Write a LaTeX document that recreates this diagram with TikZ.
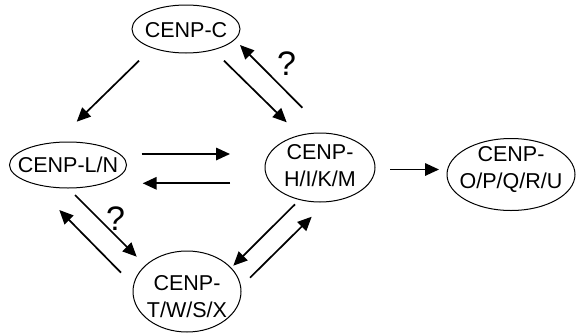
\documentclass[tikz,border=0pt]{standalone}
\usepackage{fontspec}
\setmainfont{Liberation Sans}
\usetikzlibrary{shapes.geometric,arrows.meta}
\newcommand\cenplbl[2]{\raisebox{#1}[\height][\depth]{\begin{tabular}{@{}c@{}}#2\end{tabular}}}
\begin{document}
\begin{tikzpicture}[x=1pt,y=-1pt,
  cenp/.style={draw,ellipse,line width=1pt,inner sep=-40pt,
    font=\fontsize{21.5}{26.5}\selectfont},
  conn/.style={line width=1.7pt,-{Triangle[length=14pt,width=12.5pt]}},
  qmark/.style={font=\fontsize{34}{34}\selectfont,inner sep=0pt}]
\useasboundingbox (0,0) rectangle (576,335);
\node[cenp,minimum width=108pt,minimum height=48pt] (C) at (186,29) {\cenplbl{-3pt}{CENP-C}};
\node[cenp,minimum width=117pt,minimum height=46pt] (LN) at (68,165) {\cenplbl{-2pt}{CENP-L/N}};
\node[cenp,minimum width=110pt,minimum height=69pt] (HIKM) at (320,167.5) {\cenplbl{0pt}{CENP-\\H/I/K/M}};
\node[cenp,minimum width=128pt,minimum height=72pt] (OPQRU) at (511,174.5) {\cenplbl{5pt}{CENP-\\O/P/Q/R/U}};
\node[cenp,minimum width=108pt,minimum height=81pt] (TWSX) at (187,291.5) {\cenplbl{-7pt}{CENP-\\T/W/S/X}};
% arrow end points
\coordinate (c1s) at (139,60.7);   \coordinate (c1e) at (76.7,121.7);
\coordinate (c2s) at (224,60.7);   \coordinate (c2e) at (286.7,122.3);
\coordinate (c3s) at (302.3,107.7);\coordinate (c3e) at (240,45);
\coordinate (c4s) at (141.7,154);  \coordinate (c4e) at (230,154);
\coordinate (c5s) at (230,183.3);  \coordinate (c5e) at (142.7,183.3);
\coordinate (c6s) at (390,169.5);  \coordinate (c6e) at (439,169.5);
\coordinate (c7s) at (75,195);     \coordinate (c7e) at (136.7,256.7);
\coordinate (c8s) at (121,272.7);  \coordinate (c8e) at (59.3,210);
\coordinate (c9s) at (295,204.3);  \coordinate (c9e) at (233.3,265.7);
\coordinate (c10s) at (250,277.7); \coordinate (c10e) at (311.7,216.7);
\draw[conn] (c1s) -- (c1e);
\draw[conn] (c2s) -- (c2e);
\draw[conn] (c3s) -- (c3e);
\draw[conn] (c4s) -- (c4e);
\draw[conn] (c5s) -- (c5e);
\draw[conn] (c6s) -- (c6e);
\draw[conn] (c7s) -- (c7e);
\draw[conn] (c8s) -- (c8e);
\draw[conn] (c9s) -- (c9e);
\draw[conn] (c10s) -- (c10e);
\node[qmark] (q1) at (286.7,63.3) {?};
\node[qmark] (q2) at (115.7,218.3) {?};
\end{tikzpicture}
\end{document}
